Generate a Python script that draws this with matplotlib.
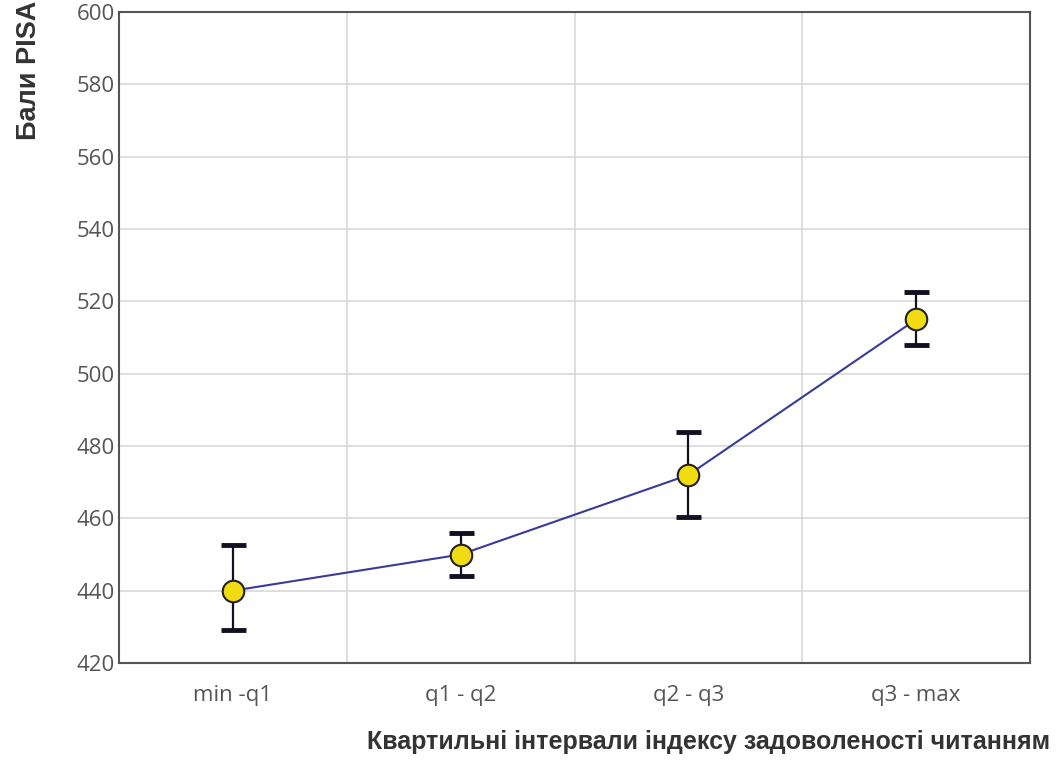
import matplotlib
matplotlib.use('Agg')
import matplotlib.pyplot as plt

# дані
categories = ['min -q1', 'q1 - q2', 'q2 - q3', 'q3 - max']
means = [440, 450, 472, 515]
lower = [429, 444, 460.5, 508]
upper = [452.5, 456, 484, 522.5]

plt.rcParams['font.family'] = ['Open Sans', 'DejaVu Sans']

fig = plt.figure(figsize=(10.56, 7.6), dpi=100)
ax = fig.add_axes([0.1127, 0.1276, 0.8627, 0.8566])

x = list(range(len(categories)))
yerr = [[m - l for m, l in zip(means, lower)], [u - m for m, u in zip(means, upper)]]

ax.plot(x, means, color='#3a3a9a', lw=1.5, zorder=2)
ax.errorbar(x, means, yerr=yerr, fmt='none', ecolor='#111122', elinewidth=1.6,
            capsize=9, capthick=3.5, zorder=3)
ax.scatter(x, means, s=240, facecolor='#f0dc10', edgecolor='#222222', lw=1.5, zorder=4)

ax.set_xlim(-0.5, 3.5)
ax.set_ylim(420, 600)
ax.set_yticks(range(420, 601, 20))
ax.set_xticks(x)
ax.set_xticklabels(categories)
ax.set_xticks([0.5, 1.5, 2.5], minor=True)
ax.grid(False)
ax.yaxis.grid(True, color='#d8d8d8', lw=1.2)
ax.xaxis.grid(True, which='minor', color='#d8d8d8', lw=1.2)
ax.set_axisbelow(True)
ax.tick_params(which='both', length=0, labelsize=16, colors='#555555', pad=3)
ax.tick_params(axis='x', pad=16)
for s in ax.spines.values():
    s.set_color('#555555')
    s.set_linewidth(1.5)

fig.text(0.027, 0.999, 'Бали PISA', rotation=90, ha='center', va='top',
         fontsize=19.5, fontweight='bold', color='#333333',
         family=['Liberation Sans', 'DejaVu Sans'])
fig.text(0.994, 0.008, 'Квартильні інтервали індексу задоволеності читанням',
         ha='right', va='bottom', fontsize=18, fontweight='bold', color='#333333',
         family=['Liberation Sans', 'DejaVu Sans'])

plt.savefig('out.png')
